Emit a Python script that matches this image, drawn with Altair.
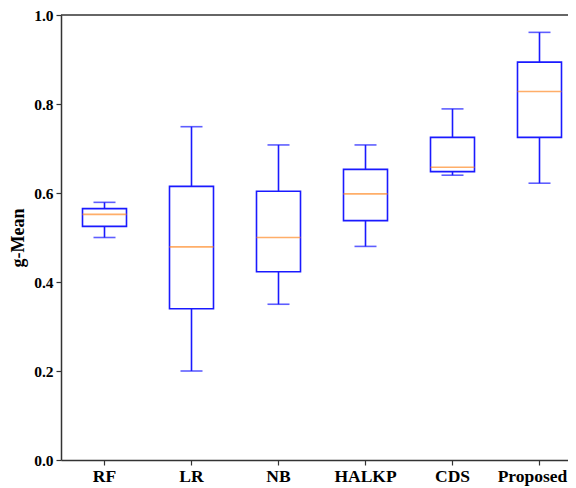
import altair as alt
import pandas as pd

categories = ["RF", "LR", "NB", "HALKP", "CDS", "Proposed"]
whisker_low = [0.50, 0.20, 0.35, 0.48, 0.64, 0.622]
q1 = [0.525, 0.34, 0.423, 0.538, 0.648, 0.725]
median = [0.552, 0.479, 0.50, 0.598, 0.658, 0.828]
q3 = [0.565, 0.615, 0.604, 0.653, 0.725, 0.894]
whisker_high = [0.579, 0.749, 0.708, 0.708, 0.789, 0.961]

df = pd.DataFrame({
    "cat": categories,
    "lo": whisker_low,
    "q1": q1,
    "med": median,
    "q3": q3,
    "hi": whisker_high,
})

BLUE = "#1a1aff"
ORANGE = "#ff8c2a"
FONT = "Liberation Serif"
FULL_W = 522

xenc = alt.X("cat:N", sort=categories, title=None,
             scale=alt.Scale(paddingInner=0, paddingOuter=0, range=[0, FULL_W]),
             axis=alt.Axis(labelAngle=0, labelFont=FONT, labelFontSize=17.5,
                           labelFontWeight="bold", labelColor="black",
                           labelOffset={"expr": "datum.value == 'Proposed' ? -7 : 0"},
                           domainColor="#333", domainWidth=1.5,
                           tickColor="#333", tickWidth=1.2, tickSize=5, labelPadding=2))

yscale = alt.Scale(domain=[0, 1])
yaxis = alt.Axis(values=[0, 0.2, 0.4, 0.6, 0.8, 1.0], format=".1f", grid=False,
                 labelFont=FONT, labelFontSize=15.5, labelFontWeight="bold", labelColor="black",
                 domainColor="#333", domainWidth=1.5, tickColor="#333", tickWidth=1.2,
                 tickSize=5, labelPadding=3,
                 title="g-Mean", titleFont=FONT, titleFontSize=18, titleFontWeight="bold",
                 titleColor="black", titlePadding=6)

base = alt.Chart(df)

lower = base.mark_rule(color=BLUE, strokeWidth=1.6).encode(
    x=xenc, y=alt.Y("lo:Q", scale=yscale, axis=yaxis), y2="q1:Q")
upper = base.mark_rule(color=BLUE, strokeWidth=1.6).encode(
    x=xenc, y=alt.Y("q3:Q", scale=yscale, axis=yaxis), y2="hi:Q")
box = base.mark_bar(size=44, fill="white", stroke=BLUE, strokeWidth=1.6).encode(
    x=xenc, y=alt.Y("q1:Q", scale=yscale, axis=yaxis), y2="q3:Q")
cap_lo = base.mark_tick(size=22, thickness=1.6, color=BLUE).encode(
    x=xenc, y=alt.Y("lo:Q", scale=yscale, axis=yaxis))
cap_hi = base.mark_tick(size=22, thickness=1.6, color=BLUE).encode(
    x=xenc, y=alt.Y("hi:Q", scale=yscale, axis=yaxis))
med = base.mark_tick(size=44, thickness=1.6, color=ORANGE).encode(
    x=xenc, y=alt.Y("med:Q", scale=yscale, axis=yaxis))
top = alt.Chart(pd.DataFrame({"k": [0]})).mark_rule(color="#333", strokeWidth=1.5).encode(
    x=alt.value(0), x2=alt.value(FULL_W), y=alt.value(0))

chart = alt.layer(lower, upper, box, cap_lo, cap_hi, med, top).properties(
    width=507, height=445,
    autosize=alt.AutoSizeParams(type="none"),
    padding={"left": 53, "top": 7, "right": 0, "bottom": 27},
).configure_view(stroke=None)

chart.save("out.html", embed_options={"renderer": "svg", "actions": False})
